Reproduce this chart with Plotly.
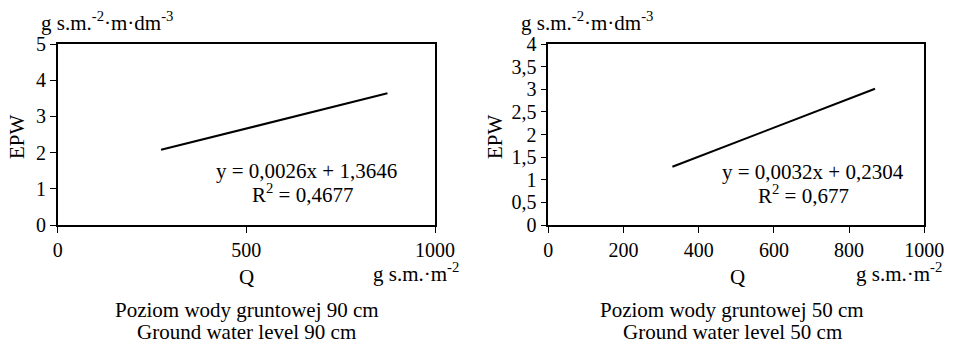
import plotly.graph_objects as go

# ---- data ----
q_left = [274, 874]
slope_left, icept_left = 0.0026, 1.3646
q_right = [330, 869]
slope_right, icept_right = 0.0032, 0.2304

epw_left = [slope_left * q + icept_left for q in q_left]
epw_right = [slope_right * q + icept_right for q in q_right]

xticks_left = [0, 500, 1000]
xticklabels_left = ["0", "500", "1000"]
yticks_left = [0, 1, 2, 3, 4, 5]
yticklabels_left = ["0", "1", "2", "3", "4", "5"]

xticks_right = [0, 200, 400, 600, 800, 1000]
xticklabels_right = ["0", "200", "400", "600", "800", "1000"]
yticks_right = [0, 0.5, 1, 1.5, 2, 2.5, 3, 3.5, 4]
yticklabels_right = ["0", "0,5", "1", "1,5", "2", "2,5", "3", "3,5", "4"]

eq_left = "y = 0,0026x + 1,3646"
r2_left = "R<sup>2</sup> = 0,4677"
eq_right = "y = 0,0032x + 0,2304"
r2_right = "R<sup>2</sup> = 0,677"

title_left = ["Poziom wody gruntowej 90 cm", "Ground water level 90 cm"]
title_right = ["Poziom wody gruntowej 50 cm", "Ground water level 50 cm"]
yunit = "g s.m.<sup>-2</sup>·m·dm<sup>-3</sup>"
xunit = "g s.m.·m<sup>-2</sup>"

W, H = 955, 344
FONT = "Liberation Serif, Times New Roman, serif"
FS = 21
TFS = 20

def px(x):
    return x / W

def py(y):
    return 1 - y / H

fig = go.Figure()
fig.add_trace(go.Scatter(x=q_left, y=epw_left, mode="lines",
                         line=dict(color="black", width=2), xaxis="x", yaxis="y",
                         showlegend=False, hoverinfo="skip"))
fig.add_trace(go.Scatter(x=q_right, y=epw_right, mode="lines",
                         line=dict(color="black", width=2), xaxis="x2", yaxis="y2",
                         showlegend=False, hoverinfo="skip"))

xdom_l = [px(57.7), px(435)]
xdom_r = [px(548.3), px(924.3)]
ydom = [py(225), py(44)]

axcommon = dict(showgrid=False, zeroline=False, linecolor="black", linewidth=1.5,
                ticks="outside", ticklen=6, tickwidth=1.2, tickcolor="black", automargin=False,
                tickfont=dict(family=FONT, size=TFS, color="black"))

def inner(**kw):
    d = dict(showgrid=False, zeroline=False, showline=False, ticks="inside", automargin=False,
             ticklen=6, tickwidth=1.2, tickcolor="black", showticklabels=False)
    d.update(kw)
    return d

fig.update_layout(
    template="none",
    width=W, height=H, margin=dict(l=0, r=0, t=0, b=0, pad=0, autoexpand=False),
    plot_bgcolor="white", paper_bgcolor="white", showlegend=False,
    font=dict(family=FONT, size=FS, color="black"),
    xaxis=dict(domain=xdom_l, range=[0, 1000], anchor="y", tickmode="array",
               tickvals=xticks_left, ticktext=xticklabels_left, mirror=True, **axcommon),
    yaxis=dict(domain=ydom, range=[0, 5], anchor="x", tickmode="array",
               tickvals=yticks_left, ticktext=yticklabels_left, mirror=True, **axcommon),
    xaxis2=dict(domain=xdom_r, range=[0, 1000], anchor="y2", tickmode="array",
                tickvals=xticks_right, ticktext=xticklabels_right, mirror=True, **axcommon),
    yaxis2=dict(domain=ydom, range=[0, 4], anchor="x2", tickmode="array",
                tickvals=yticks_right, ticktext=yticklabels_right, mirror=True, **axcommon),
    xaxis3=inner(overlaying="x", anchor="y", range=[0, 1000], tickmode="array", tickvals=xticks_left),
    yaxis3=inner(overlaying="y", anchor="x", range=[0, 5], tickmode="array", tickvals=yticks_left),
    xaxis4=inner(overlaying="x2", anchor="y2", range=[0, 1000], tickmode="array", tickvals=xticks_right),
    yaxis4=inner(overlaying="y2", anchor="x2", range=[0, 4], tickmode="array", tickvals=yticks_right),
)

def ann(text, x, y, xanchor="center", yanchor="middle", textangle=0, size=FS):
    fig.add_annotation(text=text, x=px(x), y=py(y), xref="paper", yref="paper",
                       xanchor=xanchor, yanchor=yanchor, showarrow=False, textangle=textangle,
                       font=dict(family=FONT, size=size, color="black"))

# left panel texts
ann(eq_left, 306.7, 171)
ann(r2_left, 302.5, 193)
ann("EPW", 17, 137, textangle=-90)
ann("Q", 247, 277)
ann(xunit, 461, 272, xanchor="right")
ann(yunit, 39, 21, xanchor="left")
ann(title_left[0], 247, 310)
ann(title_left[1], 247, 332)

# right panel texts
ann(eq_right, 812.5, 172)
ann(r2_right, 803, 194)
ann("EPW", 495, 137, textangle=-90)
ann("Q", 737, 277)
ann(xunit, 944, 272, xanchor="right")
ann(yunit, 519, 21, xanchor="left")
ann(title_right[0], 732, 310)
ann(title_right[1], 732, 332)

fig.write_html("out.html", config={"displayModeBar": False},
               post_script="document.body.style.margin='0px';")
